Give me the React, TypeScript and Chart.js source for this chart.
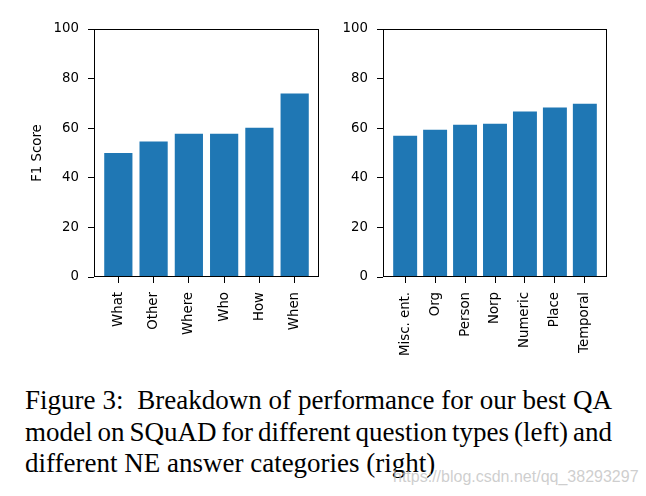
import React, { useEffect, useRef } from "react";
import { Chart, registerables } from "chart.js";

Chart.register(...registerables);

const leftCategories = ["What", "Other", "Where", "Who", "How", "When"];
const leftValues = [50.0, 54.6, 57.8, 57.8, 60.2, 74.0];
const rightCategories = ["Misc. ent.", "Org", "Person", "Norp", "Numeric", "Place", "Temporal"];
const rightValues = [57.0, 59.4, 61.4, 61.8, 66.7, 68.3, 69.9];
const yTickValues = [0, 20, 40, 60, 80, 100];
const yTitle = "F1 Score";
const captionLines = [
  "Figure 3:\u00a0 Breakdown of performance for our best QA",
  "model on SQuAD for different question types (left) and",
  "different NE answer categories (right)",
];
const watermarkText = "https://blog.csdn.net/qq_38293297";

const BAR_COLOR = "#1f77b4";
const TICK_FONT = { family: "'DejaVu Sans', sans-serif", size: 13.3 };

const framePlugin = {
  id: "frame",
  afterDatasetsDraw(chart: any) {
    const { ctx, chartArea: a } = chart;
    ctx.save();
    ctx.strokeStyle = "#000";
    ctx.lineWidth = 1;
    ctx.strokeRect(Math.round(a.left) + 0.5, Math.round(a.top) + 0.5, Math.round(a.right - a.left) - 1, Math.round(a.bottom - a.top) - 1);
    ctx.restore();
  },
};

type PanelProps = {
  categories: string[];
  values: number[];
  width: number;
  height: number;
  axisWidth: number;
  padRight: number;
  padTop: number;
  plotBottom: number;
  showTitle: boolean;
};

function Panel(props: PanelProps) {
  const ref = useRef<HTMLCanvasElement | null>(null);
  useEffect(() => {
    const { categories, values, height, axisWidth, padRight, padTop, plotBottom, showTitle } = props;
    const n = categories.length;
    const margin = 0.05 * (n - 1 + 0.8);
    const chart = new Chart(ref.current as HTMLCanvasElement, {
      type: "bar",
      data: {
        datasets: [
          {
            data: values.map((v, i) => ({ x: i, y: v })),
            backgroundColor: BAR_COLOR,
            borderWidth: 0,
            barPercentage: 0.8,
            categoryPercentage: 1,
          },
        ],
      },
      options: {
        animation: false,
        responsive: false,
        maintainAspectRatio: false,
        devicePixelRatio: 1,
        layout: { padding: { left: 0, right: padRight, top: padTop, bottom: 0 } },
        plugins: { legend: { display: false }, tooltip: { enabled: false } },
        scales: {
          x: {
            type: "linear",
            min: -0.4 - margin,
            max: n - 1 + 0.4 + margin,
            offset: false,
            border: { display: false },
            grid: { offset: false, drawOnChartArea: false, drawTicks: true, tickLength: 6, color: "#000", lineWidth: 1 },
            afterBuildTicks: (scale: any) => {
              scale.ticks = categories.map((_, i) => ({ value: i }));
            },
            afterFit: (scale: any) => {
              scale.height = height - plotBottom;
            },
            ticks: {
              autoSkip: false,
              minRotation: 90,
              maxRotation: 90,
              padding: 9,
              color: "#000",
              font: TICK_FONT,
              callback: (v: any) => categories[Math.round(Number(v))] ?? "",
            },
          },
          y: {
            type: "linear",
            min: 0,
            max: 100,
            border: { display: false },
            grid: { drawOnChartArea: false, drawTicks: true, tickLength: 6, color: "#000", lineWidth: 1 },
            afterBuildTicks: (scale: any) => {
              scale.ticks = yTickValues.map((v) => ({ value: v }));
            },
            afterFit: (scale: any) => {
              scale.width = axisWidth;
            },
            ticks: { padding: 9, color: "#000", font: TICK_FONT },
            title: {
              display: showTitle,
              text: yTitle,
              color: "#000",
              font: TICK_FONT,
              padding: { top: 30, bottom: 0 },
            },
          },
        },
      },
      plugins: [framePlugin],
    } as any);
    return () => chart.destroy();
  }, []);
  return <canvas ref={ref} width={props.width} height={props.height} style={{ width: props.width, height: props.height, display: "block" }} />;
}

export default function App() {
  return (
    <div style={{ position: "fixed", left: 0, top: 0, width: 646, height: 496, background: "#fff", overflow: "hidden" }}>
      <div style={{ position: "absolute", left: 0, top: 0 }}>
        <Panel categories={leftCategories} values={leftValues} width={330} height={370} axisWidth={94} padRight={11} padTop={29} plotBottom={277} showTitle={true} />
      </div>
      <div style={{ position: "absolute", left: 330, top: 0 }}>
        <Panel categories={rightCategories} values={rightValues} width={316} height={370} axisWidth={53} padRight={39} padTop={29} plotBottom={277} showTitle={false} />
      </div>
      <div
        style={{
          position: "absolute",
          left: 25,
          top: 385,
          width: 587,
          fontFamily: "'Liberation Serif', 'Times New Roman', serif",
          fontSize: 27,
          lineHeight: "31.5px",
          color: "#000",
        }}
      >
        {captionLines.map((line, i) => (
          <div
            key={i}
            style={{
              textAlign: i < captionLines.length - 1 ? "justify" : "left",
              textAlignLast: i < captionLines.length - 1 ? "justify" : "left",
              wordSpacing: i === 1 ? "-3.5px" : "0px",
              whiteSpace: "normal",
            }}
          >
            {line}
          </div>
        ))}
      </div>
      <div
        style={{
          position: "absolute",
          left: 393,
          top: 468,
          fontFamily: "'Liberation Sans', Arial, sans-serif",
          fontSize: 16,
          color: "rgba(190,190,190,0.75)",
          whiteSpace: "nowrap",
        }}
      >
        {watermarkText}
      </div>
    </div>
  );
}
